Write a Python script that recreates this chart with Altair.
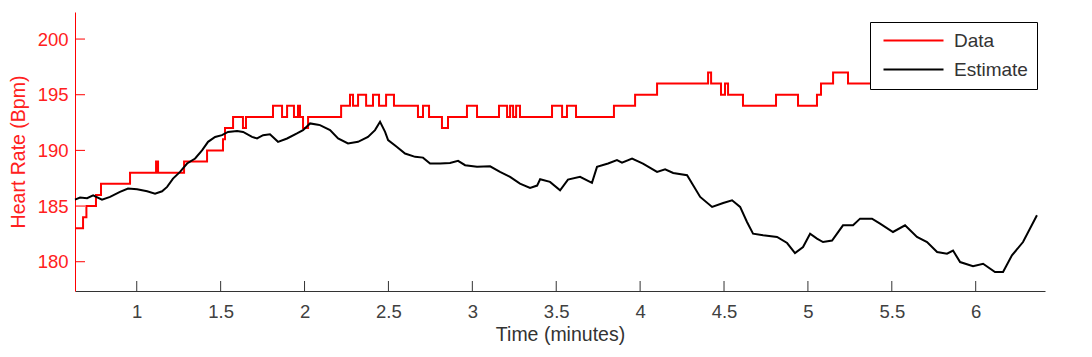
import altair as alt
import pandas as pd

# Red "Data" series (step-after): time in minutes, heart rate in bpm
data_t = [0.632, 0.680, 0.700, 0.757, 0.787, 0.960, 1.115, 1.127, 1.282, 1.419,
          1.514, 1.526, 1.574, 1.633, 1.651, 1.812, 1.866, 1.896, 1.937, 1.961,
          1.973, 1.991, 2.021, 2.218, 2.271, 2.289, 2.319, 2.367, 2.408, 2.444,
          2.486, 2.533, 2.676, 2.706, 2.742, 2.819, 2.855, 2.968, 3.028, 3.159,
          3.207, 3.225, 3.243, 3.261, 3.284, 3.475, 3.535, 3.564, 3.618, 3.844,
          3.970, 4.101, 4.405, 4.423, 4.482, 4.506, 4.524, 4.613, 4.810, 4.941,
          5.054, 5.078, 5.150, 5.239, 6.340]
data_hr = [183, 184, 185, 186, 187, 188, 189, 188, 189, 190,
           191, 192, 193, 192, 193, 194, 193, 194, 193, 194,
           193, 192, 193, 194, 195, 194, 195, 194, 195, 194,
           195, 194, 193, 194, 193, 192, 193, 194, 193, 194,
           193, 194, 193, 194, 193, 194, 193, 194, 193, 194,
           195, 196, 197, 196, 195, 196, 195, 194, 195, 194,
           195, 196, 197, 196, 196]

# Black "Estimate" series
est_t = [0.632, 0.662, 0.704, 0.740, 0.793, 0.841, 0.900, 0.948, 1.002, 1.062,
         1.109, 1.151, 1.181, 1.216, 1.258, 1.300, 1.348, 1.389, 1.425, 1.467,
         1.508, 1.544, 1.598, 1.634, 1.687, 1.717, 1.753, 1.794, 1.842, 1.896,
         1.955, 1.991, 2.033, 2.080, 2.092, 2.152, 2.200, 2.259, 2.319, 2.378,
         2.420, 2.450, 2.480, 2.498, 2.551, 2.599, 2.659, 2.706, 2.748, 2.808,
         2.867, 2.915, 2.957, 3.028, 3.106, 3.165, 3.225, 3.284, 3.344, 3.386,
         3.404, 3.463, 3.523, 3.570, 3.642, 3.713, 3.743, 3.809, 3.862, 3.892,
         3.952, 4.017, 4.101, 4.149, 4.197, 4.280, 4.316, 4.358, 4.429, 4.495,
         4.548, 4.596, 4.637, 4.673, 4.733, 4.816, 4.876, 4.923, 4.971, 5.013,
         5.054, 5.090, 5.144, 5.209, 5.269, 5.311, 5.382, 5.430, 5.507, 5.579,
         5.650, 5.710, 5.770, 5.829, 5.865, 5.907, 5.984, 6.044, 6.115, 6.163,
         6.216, 6.282, 6.365]
est_hr = [185.58, 185.76, 185.70, 185.97, 185.58, 185.82, 186.27, 186.57, 186.50, 186.33,
          186.12, 186.33, 186.72, 187.47, 188.07, 188.82, 189.27, 190.00, 190.77, 191.21,
          191.37, 191.66, 191.75, 191.66, 191.21, 191.07, 191.37, 191.45, 190.77, 191.07,
          191.52, 191.82, 192.42, 192.30, 192.27, 191.82, 191.07, 190.62, 190.77, 191.21,
          191.82, 192.57, 191.66, 190.92, 190.31, 189.72, 189.42, 189.35, 188.82, 188.82,
          188.87, 189.06, 188.67, 188.52, 188.57, 188.07, 187.62, 187.02, 186.63, 186.84,
          187.41, 187.17, 186.42, 187.38, 187.62, 187.08, 188.52, 188.82, 189.12, 188.90,
          189.27, 188.82, 188.07, 188.30, 187.97, 187.77, 186.87, 185.82, 184.92, 185.28,
          185.52, 184.92, 183.57, 182.52, 182.37, 182.22, 181.68, 180.78, 181.32, 182.52,
          182.07, 181.77, 181.90, 183.27, 183.27, 183.87, 183.87, 183.42, 182.67, 183.27,
          182.22, 181.77, 180.87, 180.72, 181.00, 179.97, 179.60, 179.82, 179.07, 179.07,
          180.57, 181.77, 184.17]

x_ticks = [1, 1.5, 2, 2.5, 3, 3.5, 4, 4.5, 5, 5.5, 6]
y_ticks = [180, 185, 190, 195, 200]
series_names = ["Data", "Estimate"]
series_colors = ["#ff0000", "#000000"]

X_DOMAIN = [0.632, 6.413]
Y_DOMAIN = [177.37, 202.43]
W, H = 970, 279
FONT = "Liberation Sans"

df_data = pd.DataFrame({"t": data_t, "hr": data_hr, "series": "Data"})
df_est = pd.DataFrame({"t": est_t, "hr": est_hr, "series": "Estimate"})

xs = alt.Scale(domain=X_DOMAIN, nice=False, zero=False)
ys = alt.Scale(domain=Y_DOMAIN, nice=False, zero=False)

x_axis = alt.Axis(
    title="Time (minutes)", values=x_ticks, format="~g", tickSize=0,
    labelPadding=11, titlePadding=5, domainColor="#333333", labelColor="#404040",
    titleColor="#333333", grid=False, labelFontSize=18.5, titleFontSize=19.5,
    labelFont=FONT, titleFont=FONT, titleFontWeight="normal")
y_axis = alt.Axis(
    title="Heart Rate (Bpm)", values=y_ticks, tickSize=0, labelPadding=7,
    titlePadding=9, domainColor="#ff0000", labelColor="#ff2020",
    titleColor="#ff2020", grid=False, labelFontSize=18.5, titleFontSize=19.5,
    labelFont=FONT, titleFont=FONT, titleFontWeight="normal")

color = alt.Color("series:N", scale=alt.Scale(domain=series_names, range=series_colors),
                  legend=alt.Legend(title=None, orient="none", legendX=795, legendY=10,
                                    strokeColor="#000000", fillColor="#ffffff",
                                    padding=9, symbolType="M-6,0H6", symbolSize=100,
                                    symbolOffset=25, symbolStrokeWidth=2,
                                    labelFontSize=19, labelFont=FONT,
                                    labelColor="#333333", rowPadding=9, labelOffset=31))

red = alt.Chart(df_data).mark_line(interpolate="step-after", strokeWidth=2).encode(
    x=alt.X("t:Q", scale=xs, axis=x_axis),
    y=alt.Y("hr:Q", scale=ys, axis=y_axis),
    color=color,
)
black = alt.Chart(df_est).mark_line(strokeWidth=2).encode(
    x=alt.X("t:Q", scale=xs, axis=x_axis),
    y=alt.Y("hr:Q", scale=ys, axis=y_axis),
    color=color,
)

yt = alt.Chart(pd.DataFrame({"hr": y_ticks})).mark_rule(color="#ff0000", strokeWidth=1).encode(
    y=alt.Y("hr:Q", scale=ys, axis=y_axis), x=alt.value(0), x2=alt.value(10))
xt = alt.Chart(pd.DataFrame({"t": x_ticks})).mark_rule(color="#333333", strokeWidth=1).encode(
    x=alt.X("t:Q", scale=xs, axis=x_axis), y=alt.value(H), y2=alt.value(H - 10))

chart = alt.layer(yt, xt, red, black).properties(
    width=W, height=H,
    autosize=alt.AutoSizeParams(type="none"),
    padding={"left": 75, "top": 12, "right": 47, "bottom": 66},
).configure_view(stroke=None)

chart.save("out.html", embed_options={"renderer": "svg", "actions": False})
